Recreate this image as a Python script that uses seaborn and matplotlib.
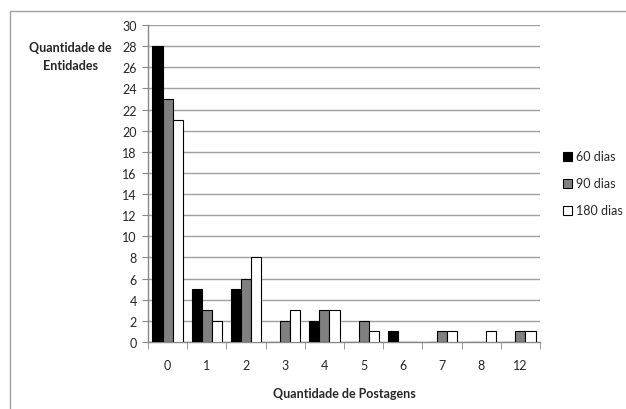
import numpy as np
import pandas as pd
import seaborn as sns
import matplotlib.pyplot as plt
from matplotlib.lines import Line2D

# Data
categorias = ["0", "1", "2", "3", "4", "5", "6", "7", "8", "12"]
dias_60 = [28, 5, 5, 0, 2, 0, 1, 0, 0, 0]
dias_90 = [23, 3, 6, 2, 3, 2, 0, 1, 0, 1]
dias_180 = [21, 2, 8, 3, 3, 1, 0, 1, 1, 1]
series = ["60 dias", "90 dias", "180 dias"]
cores = ["#000000", "#808080", "#ffffff"]

df = pd.DataFrame({
    "Postagens": categorias * 3,
    "Valor": dias_60 + dias_90 + dias_180,
    "Serie": [s for s in series for _ in categorias],
})

sns.set_style("white")
plt.rcParams["font.family"] = ["Lato", "DejaVu Sans"]

fig = plt.figure(figsize=(6.26, 4.10), dpi=100)
ax = fig.add_axes([148 / 626, 67 / 410, 392 / 626, 317 / 410])

sns.barplot(data=df, x="Postagens", y="Valor", hue="Serie", order=categorias,
            hue_order=series, palette=cores, width=0.78, gap=0,
            edgecolor="black", linewidth=0.8, saturation=1, ax=ax, zorder=3)

ax.set_ylim(0, 30)
ax.set_yticks(np.arange(0, 31, 2))
ax.set_xlim(-0.5, len(categorias) - 0.5)
ax.yaxis.grid(True, color="#a0a0a0", linewidth=1, zorder=0)
ax.set_axisbelow(True)

for side in ["top", "right"]:
    ax.spines[side].set_visible(False)
for side in ["left", "bottom"]:
    ax.spines[side].set_color("#888888")
    ax.spines[side].set_linewidth(1)

ax.tick_params(axis="y", length=4, color="#888888", labelsize=9, pad=4, left=True)
ax.tick_params(axis="x", which="major", length=0, labelsize=9, pad=12)
ax.set_xticks(np.arange(-0.5, len(categorias), 1), minor=True)
ax.tick_params(axis="x", which="minor", length=5, color="#888888", bottom=True)

ax.set_xlabel("Quantidade de Postagens", fontsize=9, fontweight="bold", labelpad=12)
ax.set_ylabel("")
fig.text(70 / 626, 1 - 57 / 410, "Quantidade de\nEntidades", ha="center", va="center",
         fontsize=9, fontweight="bold", linespacing=1.5)

leg = ax.legend(loc="center left", bbox_to_anchor=(1.03, 0.5), frameon=False,
                fontsize=9, handlelength=0.7, handleheight=0.7, handletextpad=0.3,
                labelspacing=1.2)

# outer frame of the original picture
fig.add_artist(Line2D([10 / 626, 1], [1 - 12 / 410, 1 - 12 / 410], color="#a0a0a0", lw=1))
fig.add_artist(Line2D([10 / 626, 10 / 626], [0, 1 - 12 / 410], color="#a0a0a0", lw=1))

fig.savefig("out.png", dpi=100)
